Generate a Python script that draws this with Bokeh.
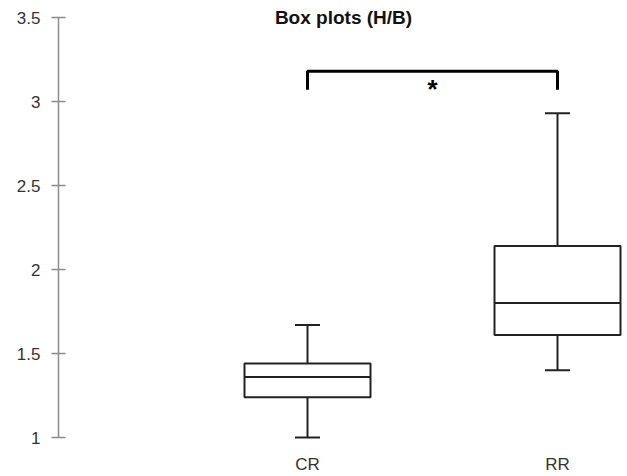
from bokeh.plotting import figure
from bokeh.models import Range1d, FixedTicker, LinearAxis, Label, ColumnDataSource
from bokeh.embed import file_html
from bokeh.resources import INLINE

# data
categories = ["CR", "RR"]
cat_pos = [1, 2]
whisker_low = [1.00, 1.40]
q1 = [1.24, 1.61]
median = [1.36, 1.80]
q3 = [1.44, 2.14]
whisker_high = [1.67, 2.93]
y_ticks = [1, 1.5, 2, 2.5, 3, 3.5]
y_tick_labels = ["1", "1.5", "2", "2.5", "3", "3.5"]
sig_top = 3.18
sig_bottom = 3.07
title_text = "Box plots (H/B)"

box_w = 0.504
cap_w = 0.1

p = figure(width=627, height=476, output_backend="svg", toolbar_location=None,
           x_range=Range1d(0.004, 2.28), y_range=Range1d(1 - 10 / 168, 3.5 + 17 / 168),
           min_border_left=58, min_border_right=0, min_border_top=0, min_border_bottom=29,
           x_axis_type=None, y_axis_type=None)
p.outline_line_color = None
p.background_fill_color = "white"
p.border_fill_color = "white"

yax = LinearAxis(ticker=FixedTicker(ticks=y_ticks), bounds=(1, 3.5))
yax.major_label_overrides = {t: l for t, l in zip(y_ticks, y_tick_labels)}
yax.axis_line_color = "#8c8c8c"
yax.axis_line_width = 1.5
yax.major_tick_line_color = "#8c8c8c"
yax.major_tick_line_width = 1.5
yax.major_tick_in = 7
yax.major_tick_out = 7
yax.minor_tick_line_color = None
yax.major_label_text_font = "Liberation Sans"
yax.major_label_text_font_size = "17px"
yax.major_label_text_color = "#333333"
yax.major_label_standoff = 11
p.add_layout(yax, "left")

xax = LinearAxis(ticker=FixedTicker(ticks=cat_pos))
xax.major_label_overrides = {c: n for c, n in zip(cat_pos, categories)}
xax.axis_line_color = None
xax.major_tick_line_color = None
xax.major_tick_in = 0
xax.major_tick_out = 0
xax.minor_tick_line_color = None
xax.major_label_text_font = "Liberation Sans"
xax.major_label_text_font_size = "17px"
xax.major_label_text_color = "#333333"
xax.major_label_standoff = 7
p.add_layout(xax, "below")

src = ColumnDataSource(dict(
    x=cat_pos,
    lo=whisker_low, q1=q1, med=median, q3=q3, hi=whisker_high,
    left=[c - box_w / 2 for c in cat_pos], right=[c + box_w / 2 for c in cat_pos],
    cl=[c - cap_w / 2 for c in cat_pos], cr=[c + cap_w / 2 for c in cat_pos],
))

lc = "#222222"
lw = 2
p.segment(x0="x", y0="q3", x1="x", y1="hi", source=src, line_color=lc, line_width=lw)
p.segment(x0="x", y0="lo", x1="x", y1="q1", source=src, line_color=lc, line_width=lw)
p.segment(x0="cl", y0="hi", x1="cr", y1="hi", source=src, line_color=lc, line_width=lw)
p.segment(x0="cl", y0="lo", x1="cr", y1="lo", source=src, line_color=lc, line_width=lw)
p.quad(left="left", right="right", bottom="q1", top="q3", source=src,
       fill_color="white", line_color=lc, line_width=lw)
p.segment(x0="left", y0="med", x1="right", y1="med", source=src, line_color=lc, line_width=lw)

# significance bracket
p.line(x=[cat_pos[0], cat_pos[0], cat_pos[1], cat_pos[1]],
       y=[sig_bottom, sig_top, sig_top, sig_bottom], line_color="black", line_width=3)
p.add_layout(Label(x=(cat_pos[0] + cat_pos[1]) / 2, y=sig_top, text="*",
                   text_align="center", text_baseline="top", y_offset=-3,
                   text_font="Liberation Sans", text_font_size="26px",
                   text_font_style="bold", text_color="black"))

p.add_layout(Label(x=1.144, y=3.5, text=title_text, text_align="center",
                   text_baseline="middle", text_font="Liberation Sans",
                   text_font_size="19px", text_font_style="bold", text_color="#111111"))

open("out.html", "w").write(file_html(p, INLINE))
